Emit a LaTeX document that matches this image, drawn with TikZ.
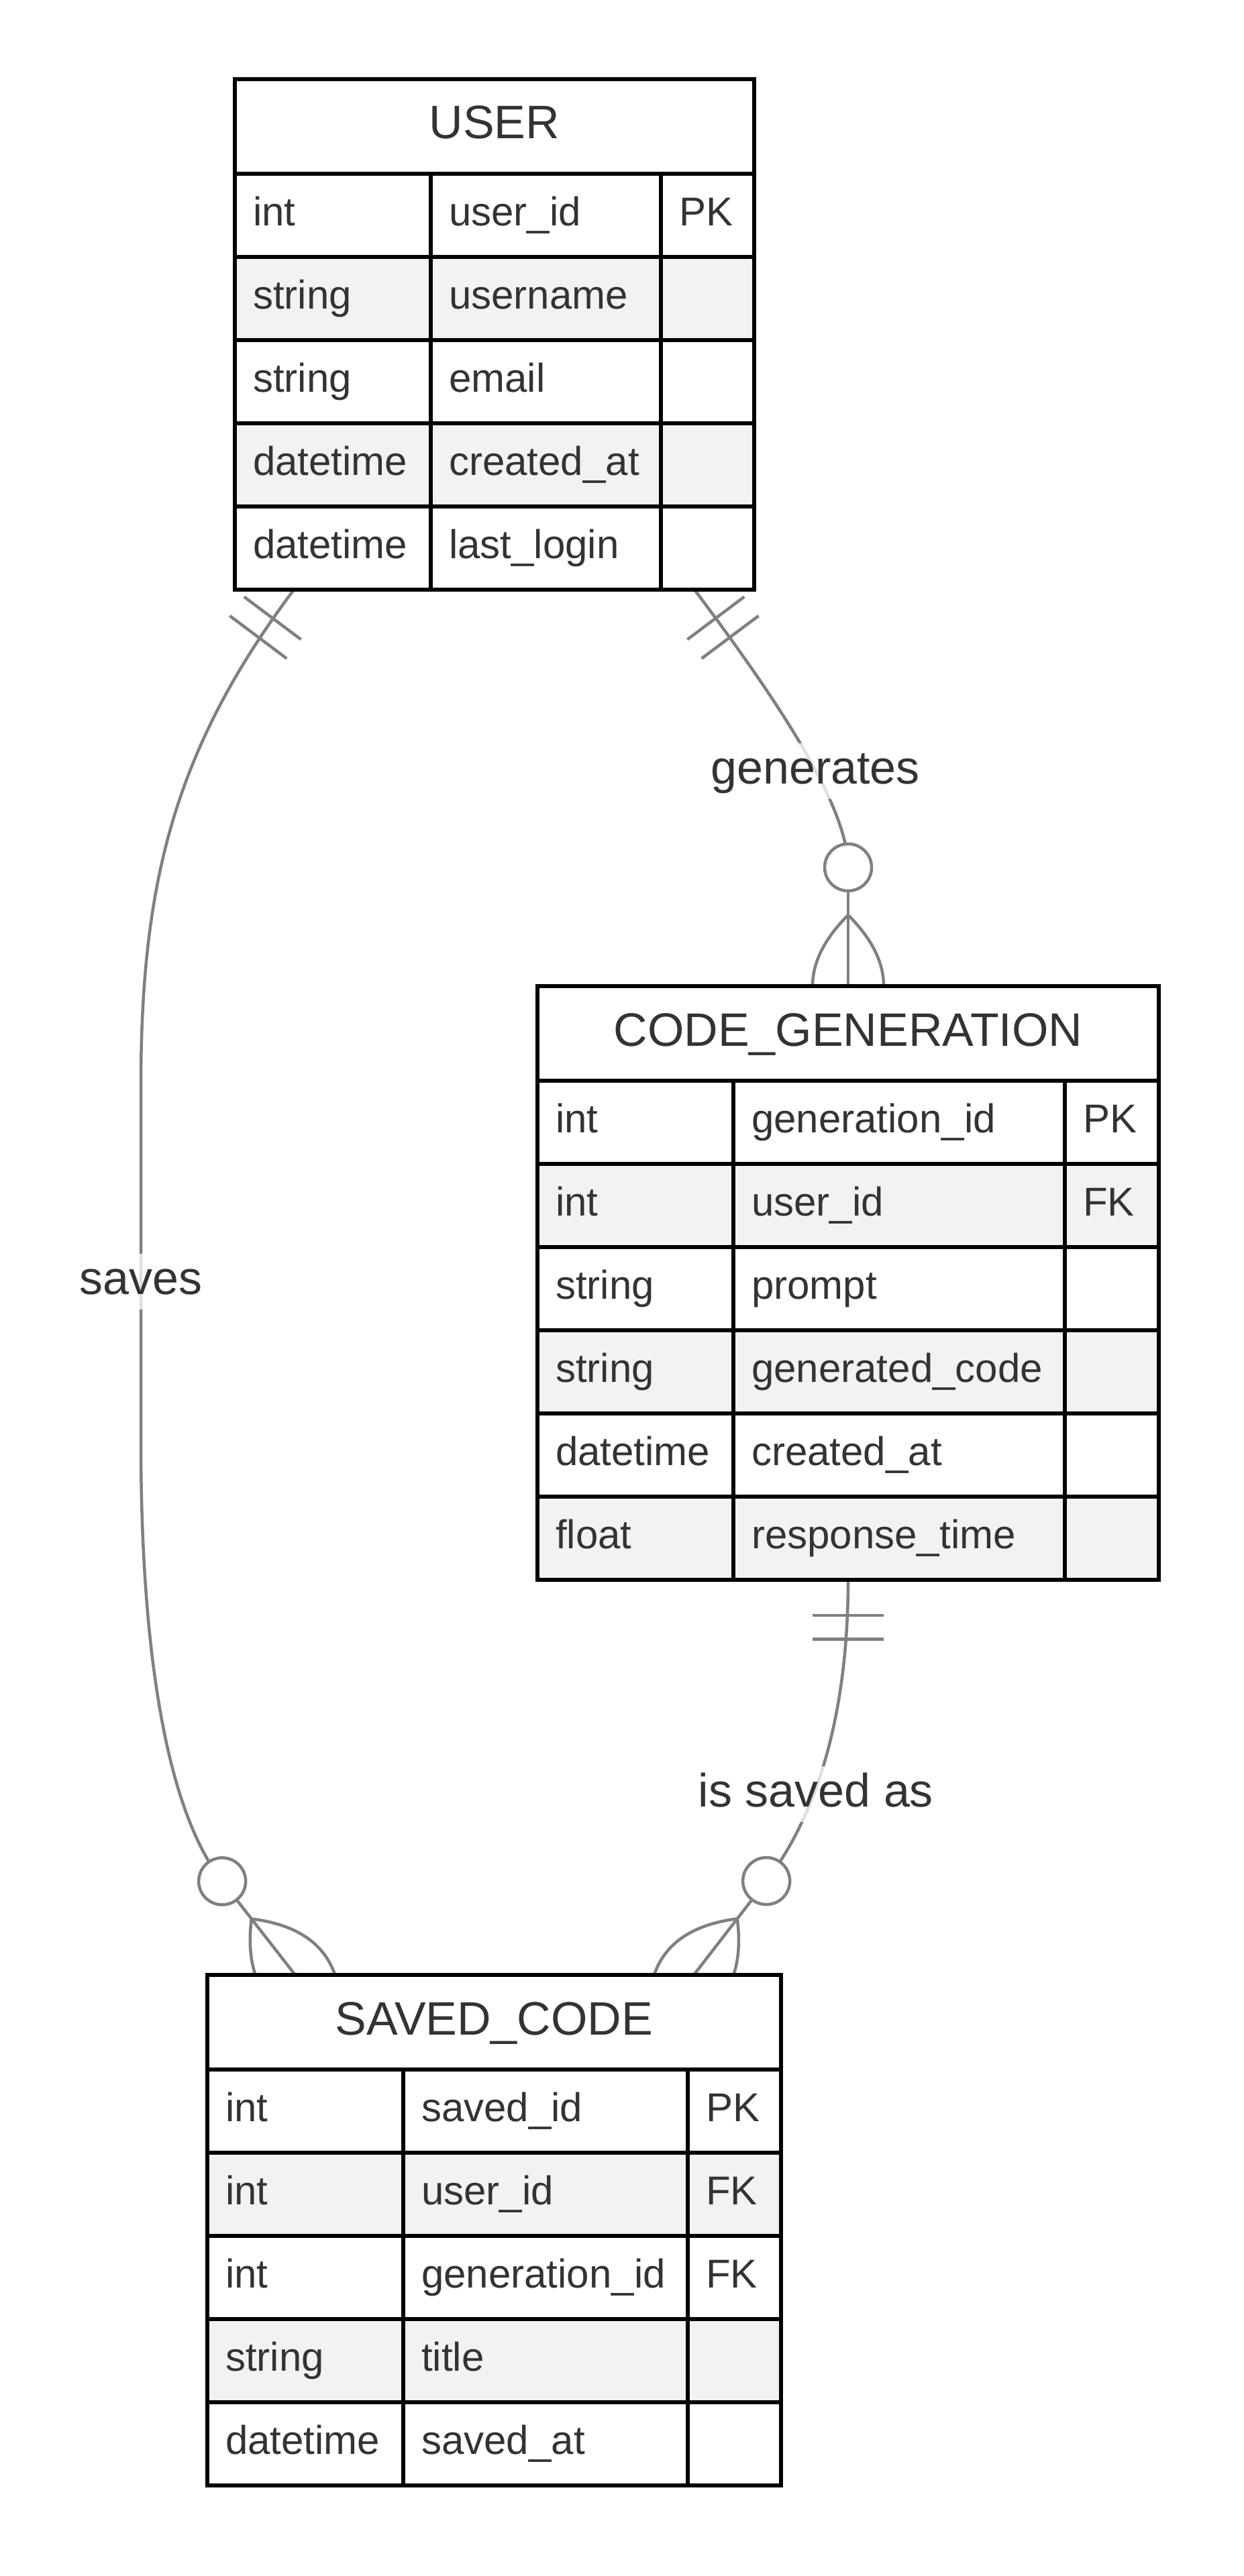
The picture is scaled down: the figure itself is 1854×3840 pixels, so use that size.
\documentclass[tikz,border=0pt]{standalone}
\usepackage{fontspec}
\setmainfont{Liberation Sans}
\usetikzlibrary{calc}
\definecolor{edgegray}{RGB}{128,128,128}
\definecolor{rowgray}{RGB}{242,242,242}
\definecolor{txt}{RGB}{51,51,51}
\pgfdeclarelayer{bg}
\pgfdeclarelayer{links}
\pgfsetlayers{bg,links,main}
\tikzset{
  ertable/.style={draw=black, fill=white, line width=6pt, inner sep=0pt, outer sep=0pt},
  erline/.style={draw=black, line width=6pt},
  erattr/.style={font=\fontsize{60}{72}\selectfont, text=txt, anchor=base west, inner sep=0pt},
  ertitle/.style={font=\fontsize{70}{84}\selectfont, text=txt, anchor=base, inner sep=0pt},
  erlink/.style={draw=edgegray, line width=4.5pt},
  erlabel/.style={font=\fontsize{70}{84}\selectfont, text=txt, fill=white, fill opacity=0.75, text opacity=1,
    inner xsep=4pt, inner ysep=0pt, text height=60pt, text depth=23pt, anchor=base},
}
% #1 name, #2 left, #3 top, #4 w1, #5 w2, #6 w3, #7 rows, #8 title, #9 list
\newcommand\erentity[9]{%
  \pgfmathsetmacro\erW{#4+#5+#6}%
  \pgfmathsetmacro\erH{141+#7*124}%
  \pgfmathsetmacro\erCb{#2+#4}%
  \pgfmathsetmacro\erCc{#2+#4+#5}%
  \node[ertable, minimum width=\erW pt, minimum height=\erH pt, anchor=north west] (#1) at (#2,#3) {};
  \foreach \ta/\tb/\tc [count=\ri] in {#9} {%
    \pgfmathsetmacro\rt{#3+141+(\ri-1)*124}%
    \ifodd\ri\relax\else\fill[rowgray] (#2,\rt) rectangle ++(\erW,124);\fi
    \node[erattr] (#1-\ri-a) at ({#2+27},{\rt+77}) {\ta};
    \node[erattr] (#1-\ri-b) at ({\erCb+27},{\rt+77}) {\tb};
    \node[erattr] (#1-\ri-c) at ({\erCc+27},{\rt+77}) {\tc};
  }
  \foreach \k in {1,...,#7} {%
    \pgfmathsetmacro\ry{#3+141+(\k-1)*124}%
    \draw[erline] (#2,\ry) -- ++(\erW,0);
  }
  \draw[erline] (\erCb,{#3+141}) -- (\erCb,{#3+\erH});
  \draw[erline] (\erCc,{#3+141}) -- (\erCc,{#3+\erH});
  \draw[erline] (#1.north west) rectangle (#1.south east);
  \node[ertitle] (#1-title) at ({#2+\erW/2},{#3+89}) {#8};
}
% mandatory-one mark: #1 coordinate, #2#3 canvas vector along line (away from box), #4#5 normal
\newcommand\markone[5]{%
  \begin{scope}[shift={(#1)}, x={(#2pt,#3pt)}, y={(#4pt,#5pt)}]
    \draw[erlink] (53,-53) -- (53,53) (88.5,-53) -- (88.5,53);
  \end{scope}}
% zero-or-many mark (lens part inside the box is hidden by the box)
\newcommand\markmany[5]{%
  \begin{scope}[shift={(#1)}, x={(#2pt,#3pt)}, y={(#4pt,#5pt)}]
    \draw[erlink] (142,0) -- (0,0);
    \draw[erlink] (106,0) .. controls (35.3,70.7) and (-35.3,70.7) .. (-106,0);
    \draw[erlink] (106,0) .. controls (35.3,-70.7) and (-35.3,-70.7) .. (-106,0);
    \draw[erlink, fill=white] (177,0) circle[radius=35];
  \end{scope}}
\begin{document}
\begin{tikzpicture}[x=1pt,y=-1pt]
\begin{pgfonlayer}{bg}
  \fill[white] (0,0) rectangle (1854,3840);
\end{pgfonlayer}
\useasboundingbox (0,0) rectangle (1854,3840);

\erentity{user}{350}{118}{292}{343}{139}{5}{USER}{%
  int/user\_id/PK, string/username/{}, string/email/{}, datetime/created\_at/{}, datetime/last\_login/{}}
\erentity{cg}{801}{1470}{292}{494}{140}{6}{CODE\_GENERATION}{%
  int/generation\_id/PK, int/user\_id/FK, string/prompt/{}, string/generated\_code/{}, datetime/created\_at/{}, float/response\_time/{}}
\erentity{sc}{309}{2944}{292}{424}{139}{5}{SAVED\_CODE}{%
  int/saved\_id/PK, int/user\_id/FK, int/generation\_id/FK, string/title/{}, datetime/saved\_at/{}}

\coordinate (s1) at ($(user.south west)+(88,0)$);
\coordinate (s2) at ($(user.south east)+(-89,0)$);
\coordinate (e2) at (cg.north);
\coordinate (s3) at (cg.south);
\coordinate (e1) at ($(sc.north west)+(131,0)$);
\coordinate (e3) at ($(sc.north east)+(-130,0)$);
\coordinate (c1) at ($(e1)+(-108.9,-139.7)$);
\coordinate (c2) at ($(e2)+(0,-177)$);
\coordinate (c3) at ($(e3)+(108.1,-140)$);

\begin{pgfonlayer}{links}
  % USER -> SAVED_CODE : saves
  \draw[erlink] (s1) .. controls (258,1119) and (210,1320) .. (210,1620)
      -- (210,2150) .. controls (210,2420) and (238.8,2685.9) .. (c1);
  % USER -> CODE_GENERATION : generates
  \draw[erlink] (s2) .. controls (1155,1039) and (1264,1200) .. (c2);
  % CODE_GENERATION -> SAVED_CODE : is saved as
  \draw[erlink] (s3) .. controls (1264,2560) and (1215.4,2709) .. (c3);

  \node[erlabel] (lsaves) at (210,1929) {saves};
  \node[erlabel] (lgen) at (1215,1168) {generates};
  \node[erlabel] (lisa) at (1216,2693) {is saved as};

  \markone{s1}{-0.6}{-0.8}{0.8}{-0.6}
  \markone{s2}{0.6}{-0.8}{0.8}{0.6}
  \markone{s3}{0}{-1}{1}{0}
  \markmany{e2}{0}{1}{1}{0}
  \markmany{e1}{-0.615}{0.789}{0.789}{0.615}
  \markmany{e3}{0.611}{0.791}{0.791}{-0.611}
\end{pgfonlayer}
\end{tikzpicture}
\end{document}
